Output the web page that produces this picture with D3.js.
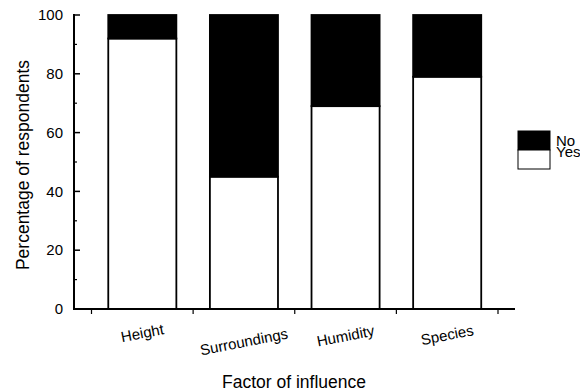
<!DOCTYPE html>
<html>
<head>
<meta charset="utf-8">
<script src="https://cdn.jsdelivr.net/npm/d3@7"></script>
<style>
  body { margin: 0; background: #fff; }
  svg { display: block; font-family: 'Liberation Sans', Arial, sans-serif; }
</style>
</head>
<body>
<div id="chart"></div>
<script>
var categories = ['Height', 'Surroundings', 'Humidity', 'Species'];
var yesValues = [92, 45, 69, 79];
var noValues = [8, 55, 31, 21];
var yTicks = [0, 20, 40, 60, 80, 100];
var yMinorTicks = [10, 30, 50, 70, 90];
var legendKeys = ['No', 'Yes'];

var width = 580;
var height = 391;
var labelAngle = 11;

var svg = d3.select('#chart').append('svg')
  .attr('width', width)
  .attr('height', height);

var xScale = d3.scaleBand()
  .domain(categories)
  .range([91.5, 498])
  .paddingInner(0.33)
  .paddingOuter(0.165);

var yScale = d3.scaleLinear()
  .domain([0, 100])
  .range([309, 15]);

var step = xScale.step();
var bandStart = xScale.range()[0];

// stacked bars: yes at bottom (white), no on top (black)
var bars = svg.append('g').attr('class', 'bars');

categories.forEach(function (c, i) {
  bars.append('rect')
    .attr('x', xScale(c))
    .attr('y', yScale(yesValues[i]))
    .attr('width', xScale.bandwidth())
    .attr('height', yScale(0) - yScale(yesValues[i]))
    .attr('fill', '#fff')
    .attr('stroke', '#000')
    .attr('stroke-width', 1.8);

  bars.append('rect')
    .attr('x', xScale(c))
    .attr('y', yScale(yesValues[i] + noValues[i]))
    .attr('width', xScale.bandwidth())
    .attr('height', yScale(yesValues[i]) - yScale(yesValues[i] + noValues[i]))
    .attr('fill', '#000')
    .attr('stroke', '#000')
    .attr('stroke-width', 1.8);
});

// y axis
var yAxis = svg.append('g').attr('class', 'axis');

yAxis.append('line')
  .attr('x1', 74).attr('x2', 74)
  .attr('y1', yScale(100) - 1).attr('y2', yScale(0))
  .attr('stroke', '#000').attr('stroke-width', 2);

yAxis.selectAll('.major')
  .data(yTicks)
  .enter().append('line')
    .attr('x1', 74).attr('x2', 80)
    .attr('y1', function (d) { return yScale(d); })
    .attr('y2', function (d) { return yScale(d); })
    .attr('stroke', '#000').attr('stroke-width', 1.5);

yAxis.selectAll('.minor')
  .data(yMinorTicks)
  .enter().append('line')
    .attr('x1', 74).attr('x2', 77)
    .attr('y1', function (d) { return yScale(d); })
    .attr('y2', function (d) { return yScale(d); })
    .attr('stroke', '#000').attr('stroke-width', 1.2);

yAxis.selectAll('text')
  .data(yTicks)
  .enter().append('text')
    .attr('x', 63)
    .attr('y', function (d) { return yScale(d); })
    .attr('dy', '0.35em')
    .attr('text-anchor', 'end')
    .attr('font-size', 15)
    .text(function (d) { return d; });

svg.append('text')
  .attr('transform', 'translate(29,' + (yScale(50) + 3) + ') rotate(-90)')
  .attr('text-anchor', 'middle')
  .attr('font-size', 17.5)
  .text('Percentage of respondents');

// x axis
var xAxis = svg.append('g').attr('class', 'axis');

xAxis.append('line')
  .attr('x1', 73).attr('x2', 515)
  .attr('y1', yScale(0)).attr('y2', yScale(0))
  .attr('stroke', '#000').attr('stroke-width', 2);

xAxis.selectAll('.tick')
  .data(d3.range(categories.length + 1))
  .enter().append('line')
    .attr('x1', function (d) { return bandStart + d * step; })
    .attr('x2', function (d) { return bandStart + d * step; })
    .attr('y1', yScale(0))
    .attr('y2', yScale(0) + 5)
    .attr('stroke', '#000').attr('stroke-width', 1.2);

// rotated labels: longer ones sit lower, as in the original
var rad = labelAngle * Math.PI / 180;
xAxis.selectAll('text')
  .data(categories)
  .enter().append('text')
    .attr('text-anchor', 'middle')
    .attr('dy', '0.35em')
    .attr('font-size', 15)
    .text(function (d) { return d; })
    .each(function (d) {
      var w = this.getComputedTextLength();
      var cx = xScale(d) + xScale.bandwidth() / 2;
      var cy = 324.7 + w * Math.sin(rad);
      d3.select(this).attr('transform',
        'translate(' + cx + ',' + cy + ') rotate(' + (-labelAngle) + ')');
    });

svg.append('text')
  .attr('x', 294)
  .attr('y', 388)
  .attr('text-anchor', 'middle')
  .attr('font-size', 17.5)
  .text('Factor of influence');

// legend
var legend = svg.append('g').attr('class', 'legend');

legend.selectAll('rect')
  .data(legendKeys)
  .enter().append('rect')
    .attr('x', 518)
    .attr('y', function (d, i) { return 131 + i * 19; })
    .attr('width', 32)
    .attr('height', 19)
    .attr('fill', function (d) { return d === 'No' ? '#000' : '#fff'; })
    .attr('stroke', '#000')
    .attr('stroke-width', 1);

legend.selectAll('text')
  .data(legendKeys)
  .enter().append('text')
    .attr('x', 556)
    .attr('y', function (d, i) { return 145.5 + i * 11.5; })
    .attr('font-size', 15)
    .text(function (d) { return d; });
</script>
</body>
</html>
